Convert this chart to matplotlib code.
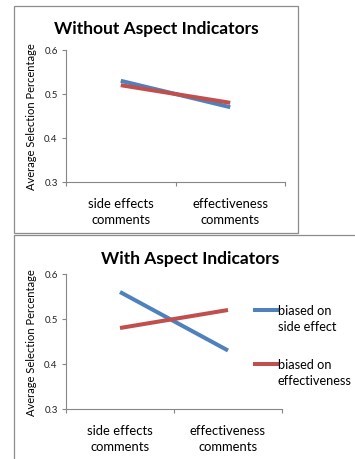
import matplotlib
matplotlib.use("Agg")
import matplotlib.pyplot as plt
from matplotlib.patches import Rectangle
from matplotlib.lines import Line2D

plt.rcParams['font.family'] = ['Lato', 'DejaVu Sans']

categories = ['side effects\ncomments', 'effectiveness\ncomments']
series_names = ['biased on\nside effect', 'biased on\neffectiveness']

without_side = [0.53, 0.47]
without_eff = [0.52, 0.48]
with_side = [0.56, 0.43]
with_eff = [0.48, 0.52]

yticks = [0.3, 0.4, 0.5, 0.6]
blue = '#4F81BD'
red = '#C0504D'
axis_grey = '#868686'

W, H = 355, 460
fig = plt.figure(figsize=(W / 100, H / 100), dpi=100)


def px_axes(x0, y0, x1, y1):
    # pixel box (top-left origin) -> figure axes
    return fig.add_axes([x0 / W, 1 - y1 / H, (x1 - x0) / W, (y1 - y0) / H])


def px_rect(x0, y0, x1, y1, **kw):
    fig.patches.append(Rectangle((x0 / W, 1 - y1 / H), (x1 - x0) / W, (y1 - y0) / H,
                                 transform=fig.transFigure, fill=False,
                                 edgecolor='#8c8c8c', linewidth=0.9, **kw))


def style(ax):
    xs = [0.5, 1.5]
    ax.set_xlim(0, 2)
    ax.set_ylim(0.3, 0.6)
    ax.set_yticks(yticks)
    ax.set_yticklabels([f'{v:.1f}' for v in yticks], fontsize=7, color='#222222')
    ax.set_xticks([0, 1, 2])
    ax.set_xticklabels([])
    ax.set_xticks(xs, minor=True)
    ax.set_xticklabels(categories, minor=True, fontsize=9.4, linespacing=1.4)
    ax.tick_params(axis='x', which='minor', length=0, pad=11)
    ax.tick_params(axis='x', which='major', length=3, color=axis_grey, width=0.8)
    ax.tick_params(axis='y', length=3, color=axis_grey, width=0.8, pad=3)
    for s in ['top', 'right']:
        ax.spines[s].set_visible(False)
    for s in ['left', 'bottom']:
        ax.spines[s].set_color(axis_grey)
        ax.spines[s].set_linewidth(0.8)
    ax.set_ylabel('Average Selection Percentage', fontsize=8, labelpad=5)
    ax.patch.set_visible(False)
    return xs


def title(cx, cy, text):
    fig.text(cx / W, 1 - cy / H, text, fontsize=12.5, fontweight='bold',
             ha='center', va='center')


# top panel
px_rect(14, 7, 298, 234)
ax1 = px_axes(66, 51, 285, 183)
xs = style(ax1)
title(156, 29, 'Without Aspect Indicators')
ax1.plot(xs, without_side, color=blue, lw=2.9, solid_capstyle='butt')
ax1.plot(xs, without_eff, color=red, lw=2.9, solid_capstyle='butt')

# bottom panel
px_rect(14, 236, 366, 470)
ax2 = px_axes(66, 275, 282, 410)
xs = style(ax2)
title(190, 259, 'With Aspect Indicators')
ax2.plot(xs, with_side, color=blue, lw=2.9, solid_capstyle='butt')
ax2.plot(xs, with_eff, color=red, lw=2.9, solid_capstyle='butt')

# legend keys beside the bottom chart
for (ky, col, name) in [(311, blue, series_names[0]), (365, red, series_names[1])]:
    fig.add_artist(Line2D([255 / W, 277 / W], [1 - ky / H, 1 - ky / H],
                          color=col, lw=2.9, transform=fig.transFigure))
    fig.text(278 / W, 1 - (ky - 6) / H, name, fontsize=9.2, va='top', ha='left',
             linespacing=1.4)

fig.savefig('out.png', dpi=100)
